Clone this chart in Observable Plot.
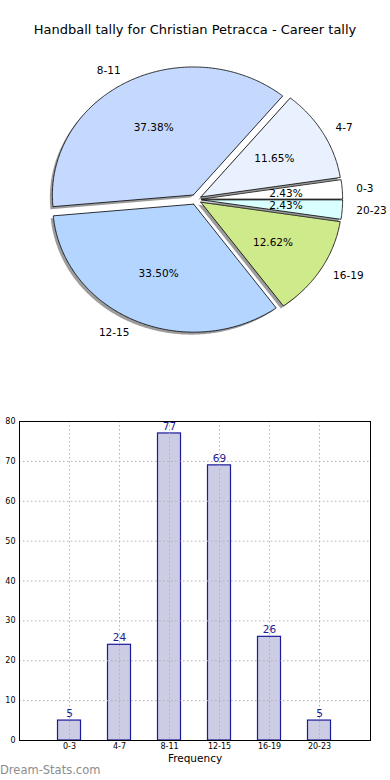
<!DOCTYPE html>
<html><head><meta charset="utf-8">
<script src="https://cdn.jsdelivr.net/npm/d3@7"></script>
<script src="https://cdn.jsdelivr.net/npm/@observablehq/plot@0.6"></script>
<style>
body{margin:0;background:#fff;font-family:"DejaVu Sans",sans-serif;}
#wrap{position:relative;width:390px;height:780px;overflow:hidden;background:#fff;}
#title{position:absolute;top:22px;left:0;width:390px;text-align:center;font-size:13px;color:#000;}
#pie{position:absolute;top:50px;left:0;}
#bar{position:absolute;top:410px;left:0;}
#wm{position:absolute;left:0;top:763px;font-size:11.5px;color:#8c8c8c;}
svg{font-family:"DejaVu Sans",sans-serif;}
</style></head><body>
<div id="wrap">
  <div id="title">Handball tally for Christian Petracca - Career tally</div>
  <div id="pie"></div>
  <div id="bar"></div>
  <div id="wm">Dream-Stats.com</div>
</div>
<script>
const categories = ["0-3", "4-7", "8-11", "12-15", "16-19", "20-23"];
const tallies = [5, 24, 77, 69, 26, 5];
const sliceColors = ["#ffffff", "#e9f1fe", "#c5d9ff", "#b4d5ff", "#cfea8b", "#d9ffff"];
const explode = [0.04, 0.04, 0.04, 0.04, 0.04, 0.04];
const yTicks = [0, 10, 20, 30, 40, 50, 60, 70, 80];

const total = d3.sum(tallies);
const arcs = d3.pie().sort(null).startAngle(0).endAngle(2 * Math.PI)(tallies);
const slices = categories.map((c, i) => {
  const a0 = arcs[i].startAngle, a1 = arcs[i].endAngle, mid = (a0 + a1) / 2;
  const ox = explode[i] * Math.cos(mid), oy = explode[i] * Math.sin(mid);
  const n = Math.max(2, Math.ceil((a1 - a0) / 0.01));
  const pts = [{x: ox, y: oy}];
  for (let k = 0; k <= n; k++) {
    const t = a0 + (a1 - a0) * k / n;
    pts.push({x: ox + Math.cos(t), y: oy + Math.sin(t)});
  }
  pts.push({x: ox, y: oy});
  return {cat: c, value: tallies[i], color: sliceColors[i], pts, mid, ox, oy};
});

const pieMarks = [];
for (const s of slices) {
  pieMarks.push(Plot.line(s.pts, {x: "x", y: "y", fill: "#4a4a4a", fillOpacity: 0.55, stroke: "none", dx: -2.5, dy: 2.5}));
  pieMarks.push(Plot.line(s.pts, {x: "x", y: "y", fill: s.color, stroke: "#000", strokeWidth: 0.8, strokeLinejoin: "miter"}));
}
const lx = d => d.ox + 1.1 * Math.cos(d.mid);
const ly = d => d.oy + 1.1 * Math.sin(d.mid);
pieMarks.push(Plot.text(slices.filter(d => Math.cos(d.mid) >= 0), {x: lx, y: ly, text: "cat", textAnchor: "start", fontSize: 10.5, fill: "#000"}));
pieMarks.push(Plot.text(slices.filter(d => Math.cos(d.mid) < 0), {x: lx, y: ly, text: "cat", textAnchor: "end", fontSize: 10.5, fill: "#000"}));
pieMarks.push(Plot.text(slices, {
  x: d => d.ox + 0.6 * Math.cos(d.mid), y: d => d.oy + 0.6 * Math.sin(d.mid),
  text: d => (100 * d.value / total).toFixed(2) + "%", fontSize: 10.5, fill: "#000"
}));

const pie = Plot.plot({
  width: 390, height: 300, margin: 0,
  x: {domain: [-1.3865, 1.3794], axis: null},
  y: {domain: [-1.1797, 1.164], axis: null},
  marks: pieMarks
});
document.getElementById("pie").append(pie);

const barData = categories.map((c, i) => ({i, cat: c, value: tallies[i]}));
const bw = 0.46;
const gridStyle = {stroke: "#b0b0b0", strokeOpacity: 1, strokeDasharray: "1.5,2.5", strokeWidth: 1};
const bar = Plot.plot({
  width: 390, height: 370,
  marginLeft: 19, marginRight: 20, marginTop: 11, marginBottom: 40,
  x: {domain: [-1, 6.02], axis: null},
  y: {domain: [0, 80], axis: null},
  marks: [
    Plot.rect(barData, {x1: d => d.i - bw / 2, x2: d => d.i + bw / 2, y1: 0, y2: "value", fill: "#ccccE4", stroke: "#1a1a9a", strokeWidth: 1.2}),
    Plot.gridX(d3.range(categories.length), gridStyle),
    Plot.gridY(yTicks, gridStyle),
    Plot.frame({stroke: "#000", strokeWidth: 1}),
    Plot.axisX(d3.range(categories.length), {tickSize: 0, tickPadding: 3, tickFormat: i => categories[i], fontSize: 8, label: null}),
    Plot.axisY(yTicks, {tickSize: 0, tickPadding: 4, fontSize: 8, label: null}),
    Plot.text(barData, {x: "i", y: "value", text: d => String(d.value), dy: -7, fill: "#1c1c8f", fontSize: 10.5}),
    Plot.text(["Frequency"], {frameAnchor: "bottom", dy: 21, fontSize: 10.5, fill: "#000", text: d => d})
  ]
});
document.getElementById("bar").append(bar);
</script>
</body></html>
